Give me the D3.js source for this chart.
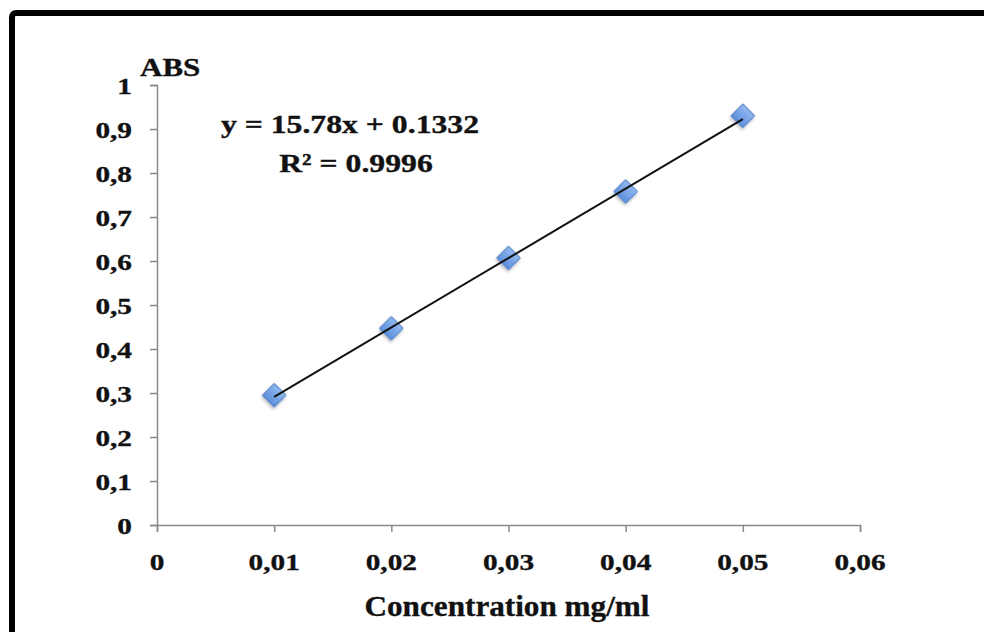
<!DOCTYPE html>
<html>
<head>
<meta charset="utf-8">
<script src="https://cdn.jsdelivr.net/npm/d3@7"></script>
<style>
  html, body { margin: 0; padding: 0; background: #fff; }
  svg { display: block; }
  text {
    font-family: "Liberation Serif", "Times New Roman", serif;
    font-weight: bold;
    fill: #111;
    stroke: #111;
    stroke-width: 0.35px;
  }
</style>
</head>
<body>
<svg id="chart"></svg>
<script>
// calibration data
const concentrations = [0.01, 0.02, 0.03, 0.04, 0.05];
const absorbances = [0.295, 0.447, 0.607, 0.758, 0.93];
const xTicks = [0, 0.01, 0.02, 0.03, 0.04, 0.05, 0.06];
const yTicks = [0, 0.1, 0.2, 0.3, 0.4, 0.5, 0.6, 0.7, 0.8, 0.9, 1];
const fitSlope = 15.78;
const fitIntercept = 0.1332;
const equationLines = ['y = 15.78x + 0.1332', 'R\u00B2 = 0.9996'];
const xTitle = 'Concentration mg/ml';
const yTitle = 'ABS';

class CalibrationChart {

  constructor(_config) {
    this.config = {
      parentElement: _config.parentElement,
      containerWidth: _config.containerWidth || 984,
      containerHeight: _config.containerHeight || 632,
      margin: _config.margin || {top: 85, right: 124, bottom: 107, left: 157},
      textStretch: 1.22   // the source image is squeezed horizontally
    };
    this.initVis();
  }

  initVis() {
    let vis = this;

    vis.width = vis.config.containerWidth - vis.config.margin.left - vis.config.margin.right;
    vis.height = vis.config.containerHeight - vis.config.margin.top - vis.config.margin.bottom;

    vis.svg = d3.select(vis.config.parentElement)
        .attr('width', vis.config.containerWidth)
        .attr('height', vis.config.containerHeight);

    // thick black frame, runs off the right and bottom edge
    vis.svg.append('rect')
        .attr('x', 12)
        .attr('y', 13)
        .attr('width', vis.config.containerWidth + 20)
        .attr('height', vis.config.containerHeight + 20)
        .attr('rx', 4)
        .attr('fill', 'none')
        .attr('stroke', '#000')
        .attr('stroke-width', 6);

    const defs = vis.svg.append('defs');
    const grad = defs.append('linearGradient')
        .attr('id', 'marker-fill')
        .attr('x1', '0%').attr('y1', '0%')
        .attr('x2', '0%').attr('y2', '100%');
    grad.append('stop').attr('offset', '0%').attr('stop-color', '#93b9f0');
    grad.append('stop').attr('offset', '100%').attr('stop-color', '#5d8fdc');

    const shadow = defs.append('filter').attr('id', 'marker-shadow')
        .attr('x', '-50%').attr('y', '-50%').attr('width', '200%').attr('height', '200%');
    shadow.append('feDropShadow')
        .attr('dx', 1).attr('dy', 2).attr('stdDeviation', 1.5)
        .attr('flood-color', '#000').attr('flood-opacity', 0.25);

    vis.chart = vis.svg.append('g')
        .attr('transform', `translate(${vis.config.margin.left},${vis.config.margin.top})`);

    vis.xScale = d3.scaleLinear().domain([0, 0.06]).range([0, vis.width]);
    vis.yScale = d3.scaleLinear().domain([0, 1]).range([vis.height, 0]);

    vis.renderVis();
  }

  // bold serif text, stretched sideways like in the source
  addText(parent, str, x, y, size, anchor, stretch) {
    let vis = this;
    const sx = stretch || vis.config.textStretch;
    return parent.append('g')
        .attr('transform', `translate(${x},${y}) scale(${sx},1)`)
      .append('text')
        .attr('font-size', size)
        .attr('text-anchor', anchor || 'start')
        .text(str);
  }

  renderVis() {
    let vis = this;
    const fmt = d => d === 0 ? '0' : String(+d.toFixed(2)).replace('.', ',');
    const axisColor = '#8a8a8a';

    // axes
    const xAxis = d3.axisBottom(vis.xScale).tickValues(xTicks).tickSize(7).tickFormat('');
    const yAxis = d3.axisLeft(vis.yScale).tickValues(yTicks).tickSize(7).tickFormat('');

    const gx = vis.chart.append('g')
        .attr('transform', `translate(0,${vis.height})`)
        .call(xAxis);
    const gy = vis.chart.append('g').call(yAxis);

    [gx, gy].forEach(g => {
      g.select('.domain').attr('stroke', axisColor).attr('stroke-width', 1.5);
      g.selectAll('.tick line').attr('stroke', axisColor).attr('stroke-width', 1.5);
    });

    // tick labels
    xTicks.forEach(t => {
      vis.addText(vis.chart, fmt(t), vis.xScale(t), vis.height + 45, 24, 'middle');
    });
    yTicks.forEach(t => {
      vis.addText(vis.chart, fmt(t), -25, vis.yScale(t) + 9, 24, 'end');
    });

    // axis titles
    vis.addText(vis.svg, yTitle, 140, 76, 25, 'start', 1.24);
    vis.addText(vis.svg, xTitle, 507, 616, 30, 'middle', 1.04);

    // linear fit from first to last standard
    const xExtent = d3.extent(concentrations);
    const fitPoints = xExtent.map(x => [x, fitSlope * x + fitIntercept]);
    const line = d3.line()
        .x(d => vis.xScale(d[0]))
        .y(d => vis.yScale(d[1]));

    // markers
    vis.chart.selectAll('.point')
        .data(concentrations.map((c, i) => ({x: c, y: absorbances[i]})))
      .join('path')
        .attr('class', 'point')
        .attr('d', d3.symbol().type(d3.symbolSquare).size(275))
        .attr('transform', d => `translate(${vis.xScale(d.x)},${vis.yScale(d.y)}) rotate(45)`)
        .attr('fill', 'url(#marker-fill)')
        .attr('stroke', '#4f7fc6')
        .attr('stroke-width', 1)
        .attr('filter', 'url(#marker-shadow)');

    vis.chart.append('path')
        .datum(fitPoints)
        .attr('d', line)
        .attr('fill', 'none')
        .attr('stroke', '#111')
        .attr('stroke-width', 2);

    // regression equation
    vis.addText(vis.svg, equationLines[0], 350, 133, 26, 'middle');
    vis.addText(vis.svg, equationLines[1], 356, 172, 26, 'middle');
  }
}

new CalibrationChart({parentElement: '#chart'});
</script>
</body>
</html>
